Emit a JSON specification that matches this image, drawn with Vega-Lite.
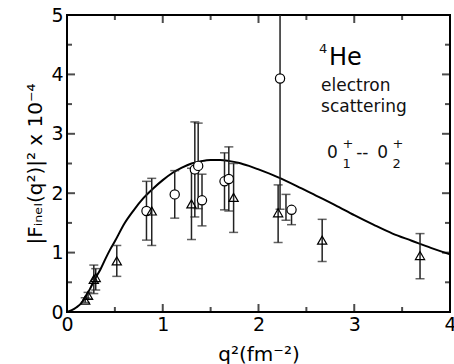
{
  "$schema": "https://vega.github.io/schema/vega-lite/v6.json",
  "width": 383,
  "height": 297,
  "autosize": {"type": "none"},
  "padding": {"left": 67, "top": 15, "right": 4, "bottom": 52},
  "config": {
    "view": {"stroke": "black", "strokeWidth": 2},
    "font": "DejaVu Sans",
    "axis": {
      "domain": false, "grid": false, "ticks": false,
      "labelFont": "DejaVu Sans", "titleFont": "DejaVu Sans",
      "labelColor": "black", "titleColor": "black",
      "titleFontWeight": "normal", "labelFlush": false, "labelOverlap": false
    }
  },
  "datasets": {
    "curve": [
      {"q2": 0, "f": 0}, {"q2": 0.05, "f": 0.03}, {"q2": 0.1, "f": 0.08}, {"q2": 0.15, "f": 0.15},
      {"q2": 0.2, "f": 0.27}, {"q2": 0.25, "f": 0.42}, {"q2": 0.3, "f": 0.58}, {"q2": 0.35, "f": 0.72},
      {"q2": 0.4, "f": 0.89}, {"q2": 0.45, "f": 1.05}, {"q2": 0.5, "f": 1.19}, {"q2": 0.6, "f": 1.49},
      {"q2": 0.7, "f": 1.72}, {"q2": 0.8, "f": 1.92}, {"q2": 0.9, "f": 2.08}, {"q2": 1.0, "f": 2.22},
      {"q2": 1.1, "f": 2.34}, {"q2": 1.2, "f": 2.43}, {"q2": 1.3, "f": 2.5}, {"q2": 1.4, "f": 2.54},
      {"q2": 1.5, "f": 2.56}, {"q2": 1.6, "f": 2.56}, {"q2": 1.7, "f": 2.54}, {"q2": 1.8, "f": 2.51},
      {"q2": 1.9, "f": 2.46}, {"q2": 2.0, "f": 2.4}, {"q2": 2.2, "f": 2.27}, {"q2": 2.4, "f": 2.12},
      {"q2": 2.6, "f": 1.96}, {"q2": 2.8, "f": 1.8}, {"q2": 3.0, "f": 1.63}, {"q2": 3.2, "f": 1.47},
      {"q2": 3.4, "f": 1.32}, {"q2": 3.6, "f": 1.2}, {"q2": 3.8, "f": 1.08}, {"q2": 4.0, "f": 0.97}
    ],
    "points": [
      {"q2": 0.83, "f": 1.70, "lo": 1.21, "hi": 2.20, "sym": "circle"},
      {"q2": 1.125, "f": 1.98, "lo": 1.58, "hi": 2.38, "sym": "circle"},
      {"q2": 1.335, "f": 2.40, "lo": 1.60, "hi": 3.20, "sym": "circle"},
      {"q2": 1.37, "f": 2.46, "lo": 1.74, "hi": 3.18, "sym": "circle"},
      {"q2": 1.41, "f": 1.88, "lo": 1.45, "hi": 2.32, "sym": "circle"},
      {"q2": 1.645, "f": 2.20, "lo": 1.72, "hi": 2.68, "sym": "circle"},
      {"q2": 1.69, "f": 2.24, "lo": 1.70, "hi": 2.78, "sym": "circle"},
      {"q2": 2.225, "f": 3.93, "lo": 1.73, "hi": 6.13, "sym": "circle"},
      {"q2": 2.345, "f": 1.72, "lo": 1.47, "hi": 1.72, "sym": "circle"},
      {"q2": 2.287, "f": null, "lo": 1.545, "hi": 1.98, "sym": "none"},
      {"q2": 0.19, "f": 0.20, "lo": 0.16, "hi": 0.24, "sym": "triangle"},
      {"q2": 0.22, "f": 0.28, "lo": 0.22, "hi": 0.33, "sym": "triangle"},
      {"q2": 0.28, "f": 0.55, "lo": 0.31, "hi": 0.79, "sym": "triangle"},
      {"q2": 0.30, "f": 0.58, "lo": 0.37, "hi": 0.73, "sym": "triangle"},
      {"q2": 0.52, "f": 0.86, "lo": 0.60, "hi": 1.12, "sym": "triangle"},
      {"q2": 0.885, "f": 1.70, "lo": 1.12, "hi": 2.25, "sym": "triangle"},
      {"q2": 1.30, "f": 1.82, "lo": 1.22, "hi": 2.42, "sym": "triangle"},
      {"q2": 1.74, "f": 1.93, "lo": 1.34, "hi": 2.50, "sym": "triangle"},
      {"q2": 2.205, "f": 1.67, "lo": 1.17, "hi": 2.14, "sym": "triangle"},
      {"q2": 2.665, "f": 1.21, "lo": 0.85, "hi": 1.56, "sym": "triangle"},
      {"q2": 3.687, "f": 0.95, "lo": 0.56, "hi": 1.32, "sym": "triangle"}
    ],
    "xMajor": [
      {"v": 1, "edge": 0}, {"v": 2, "edge": 0}, {"v": 3, "edge": 0},
      {"v": 1, "edge": 5}, {"v": 2, "edge": 5}, {"v": 3, "edge": 5}
    ],
    "xMinor": [
      {"v": 0.5, "edge": 0}, {"v": 1.5, "edge": 0}, {"v": 2.5, "edge": 0}, {"v": 3.5, "edge": 0},
      {"v": 0.5, "edge": 5}, {"v": 1.5, "edge": 5}, {"v": 2.5, "edge": 5}, {"v": 3.5, "edge": 5}
    ],
    "yMajor": [
      {"v": 1, "edge": 0}, {"v": 2, "edge": 0}, {"v": 3, "edge": 0}, {"v": 4, "edge": 0},
      {"v": 1, "edge": 4}, {"v": 2, "edge": 4}, {"v": 3, "edge": 4}, {"v": 4, "edge": 4}
    ],
    "yMinor": [
      {"v": 0.5, "edge": 0}, {"v": 1.5, "edge": 0}, {"v": 2.5, "edge": 0}, {"v": 3.5, "edge": 0}, {"v": 4.5, "edge": 0},
      {"v": 0.5, "edge": 4}, {"v": 1.5, "edge": 4}, {"v": 2.5, "edge": 4}, {"v": 3.5, "edge": 4}, {"v": 4.5, "edge": 4}
    ],
    "bigText": [
      {"t": "He", "x": 2.736, "y": 4.158}
    ],
    "midText": [
      {"t": "electron", "x": 2.653, "y": 3.72},
      {"t": "scattering", "x": 2.653, "y": 3.36},
      {"t": "0", "x": 2.716, "y": 2.585},
      {"t": "--", "x": 3.02, "y": 2.585},
      {"t": "0", "x": 3.24, "y": 2.585}
    ],
    "smallText": [
      {"t": "4", "x": 2.632, "y": 4.36},
      {"t": "+", "x": 2.876, "y": 2.76},
      {"t": "1", "x": 2.876, "y": 2.417},
      {"t": "+", "x": 3.4, "y": 2.76},
      {"t": "2", "x": 3.4, "y": 2.417}
    ]
  },
  "layer": [
    {
      "data": {"name": "curve"},
      "mark": {"type": "line", "color": "black", "strokeWidth": 2, "interpolate": "monotone"},
      "encoding": {
        "x": {"field": "q2", "type": "quantitative", "scale": {"domain": [0, 4], "nice": false},
          "axis": {"orient": "bottom", "values": [0, 1, 2, 3, 4], "ticks": false, "format": "d",
            "labelFontSize": 19, "labelPadding": 3,
            "title": "q²(fm⁻²)", "titleFontSize": 20, "titlePadding": 10}},
        "y": {"field": "f", "type": "quantitative", "scale": {"domain": [0, 5], "nice": false},
          "axis": {"orient": "left", "values": [0, 1, 2, 3, 4, 5], "ticks": false, "format": "d",
            "labelFontSize": 19, "labelPadding": 4,
            "title": "|Fᵢₙₑₗ(q²)|² x 10⁻⁴", "titleFontSize": 20, "titlePadding": 5}}
      }
    },
    {
      "data": {"name": "xMajor"},
      "mark": {"type": "tick", "orient": "vertical", "size": 16, "thickness": 2, "color": "black", "clip": true},
      "encoding": {"x": {"field": "v", "type": "quantitative"}, "y": {"field": "edge", "type": "quantitative"}}
    },
    {
      "data": {"name": "xMinor"},
      "mark": {"type": "tick", "orient": "vertical", "size": 10, "thickness": 2, "color": "black", "clip": true},
      "encoding": {"x": {"field": "v", "type": "quantitative"}, "y": {"field": "edge", "type": "quantitative"}}
    },
    {
      "data": {"name": "yMajor"},
      "mark": {"type": "tick", "orient": "horizontal", "size": 16, "thickness": 2, "color": "black", "clip": true},
      "encoding": {"y": {"field": "v", "type": "quantitative"}, "x": {"field": "edge", "type": "quantitative"}}
    },
    {
      "data": {"name": "yMinor"},
      "mark": {"type": "tick", "orient": "horizontal", "size": 10, "thickness": 2, "color": "black", "clip": true},
      "encoding": {"y": {"field": "v", "type": "quantitative"}, "x": {"field": "edge", "type": "quantitative"}}
    },
    {
      "data": {"name": "points"},
      "mark": {"type": "rule", "color": "#222222", "strokeWidth": 1.5, "clip": true},
      "encoding": {
        "x": {"field": "q2", "type": "quantitative"},
        "y": {"field": "lo", "type": "quantitative"},
        "y2": {"field": "hi"}
      }
    },
    {
      "data": {"name": "points"},
      "transform": [{"fold": ["lo", "hi"], "as": ["end", "val"]}],
      "mark": {"type": "tick", "orient": "horizontal", "size": 9, "thickness": 1.5, "color": "#222222", "clip": true},
      "encoding": {
        "x": {"field": "q2", "type": "quantitative"},
        "y": {"field": "val", "type": "quantitative"}
      }
    },
    {
      "data": {"name": "points"},
      "transform": [{"filter": "datum.sym === 'circle'"}],
      "mark": {"type": "point", "shape": "circle", "size": 85, "filled": false, "fill": "white", "fillOpacity": 1, "stroke": "black", "strokeWidth": 1.2, "opacity": 1},
      "encoding": {
        "x": {"field": "q2", "type": "quantitative"},
        "y": {"field": "f", "type": "quantitative"}
      }
    },
    {
      "data": {"name": "points"},
      "transform": [{"filter": "datum.sym === 'triangle'"}],
      "mark": {"type": "point", "shape": "triangle-up", "size": 85, "filled": false, "stroke": "black", "strokeWidth": 1.2, "opacity": 1},
      "encoding": {
        "x": {"field": "q2", "type": "quantitative"},
        "y": {"field": "f", "type": "quantitative"}
      }
    },
    {
      "data": {"name": "bigText"},
      "mark": {"type": "text", "fontSize": 24, "align": "left", "baseline": "alphabetic", "color": "black"},
      "encoding": {
        "x": {"field": "x", "type": "quantitative"},
        "y": {"field": "y", "type": "quantitative"},
        "text": {"field": "t"}
      }
    },
    {
      "data": {"name": "midText"},
      "mark": {"type": "text", "fontSize": 17, "align": "left", "baseline": "alphabetic", "color": "#111111"},
      "encoding": {
        "x": {"field": "x", "type": "quantitative"},
        "y": {"field": "y", "type": "quantitative"},
        "text": {"field": "t"}
      }
    },
    {
      "data": {"name": "smallText"},
      "mark": {"type": "text", "fontSize": 13, "align": "left", "baseline": "alphabetic", "color": "#111111"},
      "encoding": {
        "x": {"field": "x", "type": "quantitative"},
        "y": {"field": "y", "type": "quantitative"},
        "text": {"field": "t"}
      }
    }
  ]
}
